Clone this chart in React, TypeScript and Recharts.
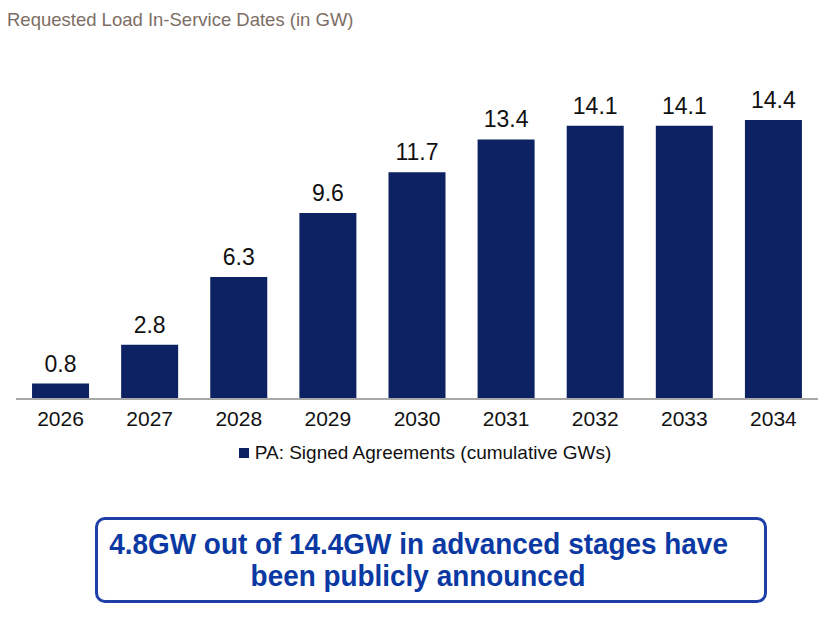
import { Bar, BarChart, LabelList, Legend, XAxis, YAxis } from "recharts";

const years = ["2026", "2027", "2028", "2029", "2030", "2031", "2032", "2033", "2034"];
const signedGW = [0.8, 2.8, 6.3, 9.6, 11.7, 13.4, 14.1, 14.1, 14.4];

const data = years.map((year, i) => ({ year, gw: signedGW[i] }));

const NAVY = "#0c2262";
const FONT = "'Liberation Sans', Arial, sans-serif";

const LegendBox = () => (
  <div
    style={{
      display: "flex",
      justifyContent: "center",
      alignItems: "center",
      paddingLeft: 16,
      paddingTop: 7,
      fontFamily: FONT,
      fontSize: 19,
      color: "#111",
    }}
  >
    <span style={{ width: 10, height: 10, background: NAVY, display: "inline-block", marginRight: 6 }} />
    PA: Signed Agreements (cumulative GWs)
  </div>
);

const App = () => {
  return (
    <div style={{ position: "absolute", left: 0, top: 0, width: 826, height: 620, background: "#fff" }}>
      <div
        style={{
          position: "absolute",
          left: 7,
          top: 9,
          fontFamily: FONT,
          fontSize: 18.5,
          color: "#7d6e65",
        }}
      >
        Requested Load In-Service Dates (in GW)
      </div>
      <BarChart
        width={826}
        height={475}
        data={data}
        margin={{ top: 89, right: 8, left: 16, bottom: 0 }}
        barCategoryGap="18%"
      >
        <YAxis hide domain={[0, 16]} />
        <XAxis
          dataKey="year"
          tickLine={false}
          axisLine={{ stroke: "#a8a8a8", strokeWidth: 2 }}
          tick={{ fill: "#111", fontSize: 21, fontFamily: FONT }}
          tickMargin={6}
          height={36}
        />
        <Legend verticalAlign="bottom" height={40} content={<LegendBox />} />
        <Bar dataKey="gw" fill={NAVY} isAnimationActive={false}>
          <LabelList
            dataKey="gw"
            position="top"
            offset={12}
            formatter={(v: number) => v.toFixed(1)}
            style={{ fill: "#111", fontSize: 23, fontFamily: FONT }}
          />
        </Bar>
      </BarChart>
      <div
        style={{
          position: "absolute",
          left: 95,
          top: 517,
          width: 666,
          height: 80,
          border: "3px solid #1d3fa6",
          borderRadius: 10,
          boxSizing: "content-box",
          display: "flex",
          flexDirection: "column",
          alignItems: "center",
          justifyContent: "center",
          paddingRight: 0,
          fontFamily: FONT,
          fontWeight: "bold",
          fontSize: 30,
          lineHeight: "32px",
          color: "#0b39a3",
        }}
      >
        <span
          style={{ display: "inline-block", whiteSpace: "nowrap", transform: "translateX(-12px) scaleX(0.93)" }}
        >
          4.8GW out of 14.4GW in advanced stages have
        </span>
        <span
          style={{ display: "inline-block", whiteSpace: "nowrap", transform: "translateX(-13px) scaleX(0.93)" }}
        >
          been publicly announced
        </span>
      </div>
    </div>
  );
};

export default App;
